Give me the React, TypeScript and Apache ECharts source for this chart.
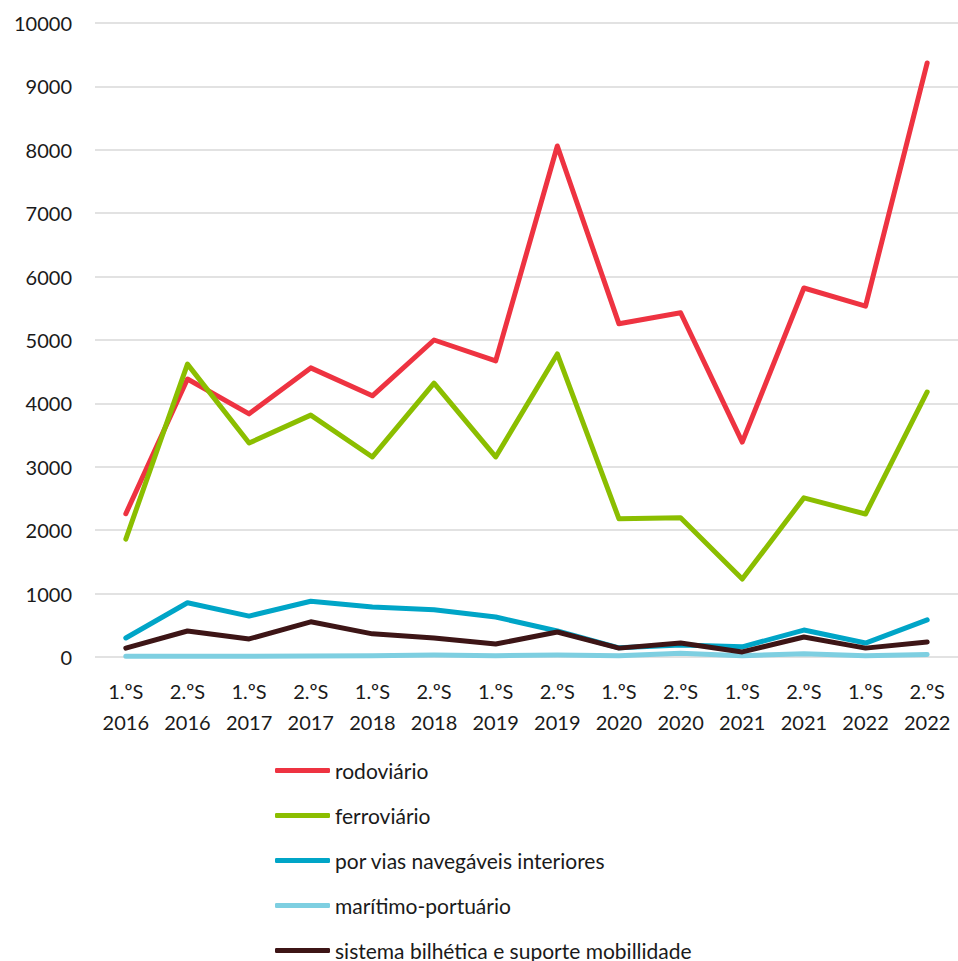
import React, { useEffect, useRef } from "react";
import * as echarts from "echarts";

const categories = [
  "1.ºS\n2016", "2.ºS\n2016", "1.ºS\n2017", "2.ºS\n2017", "1.ºS\n2018", "2.ºS\n2018", "1.ºS\n2019",
  "2.ºS\n2019", "1.ºS\n2020", "2.ºS\n2020", "1.ºS\n2021", "2.ºS\n2021", "1.ºS\n2022", "2.ºS\n2022",
];
const rodoviario = [2260, 4385, 3835, 4560, 4120, 5000, 4670, 8060, 5255, 5430, 3390, 5820, 5535, 9370];
const ferroviario = [1860, 4620, 3375, 3815, 3155, 4320, 3155, 4780, 2180, 2195, 1230, 2510, 2255, 4180];
const viasNavegaveis = [300, 855, 645, 880, 790, 745, 630, 410, 145, 190, 160, 425, 220, 585];
const maritimoPortuario = [10, 10, 10, 15, 20, 30, 20, 30, 20, 60, 20, 50, 20, 40];
const bilhetica = [140, 410, 285, 555, 365, 300, 205, 395, 140, 220, 80, 315, 140, 235];

const seriesDefs = [
  { name: "rodoviário", data: rodoviario, color: "#EE3341" },
  { name: "ferroviário", data: ferroviario, color: "#8BBE00" },
  { name: "por vias navegáveis interiores", data: viasNavegaveis, color: "#00A5C7" },
  { name: "marítimo-portuário", data: maritimoPortuario, color: "#7ECFE1" },
  { name: "sistema bilhética e suporte mobillidade", data: bilhetica, color: "#3D1516" },
];

const FONT = "Lato";

export default function App() {
  const ref = useRef<HTMLDivElement>(null);
  useEffect(() => {
    const chart = echarts.init(ref.current!, null, { renderer: "svg" });
    chart.setOption({
      animation: false,
      backgroundColor: "#ffffff",
      textStyle: { fontFamily: FONT },
      grid: { left: 95, right: 0, top: 23, bottom: 304, containLabel: false },
      xAxis: {
        type: "category",
        data: categories,
        boundaryGap: true,
        axisLine: { show: false },
        axisTick: { show: false },
        axisLabel: {
          color: "#1a1a1a",
          fontSize: 20,
          fontFamily: FONT,
          lineHeight: 31,
          margin: 18,
          interval: 0,
        },
      },
      yAxis: {
        type: "value",
        min: 0,
        max: 10000,
        interval: 1000,
        axisLine: { show: false },
        axisTick: { show: false },
        splitLine: { lineStyle: { color: "#D9D9D9", width: 1.5 } },
        axisLabel: {
          color: "#1a1a1a",
          fontSize: 20,
          fontFamily: FONT,
          margin: 23,
          formatter: (v: number) => String(v),
        },
      },
      legend: {
        orient: "vertical",
        left: 275,
        top: 760,
        height: 260,
        padding: 0,
        icon: "roundRect",
        itemWidth: 55,
        itemHeight: 5,
        itemGap: 24,
        textStyle: { color: "#1a1a1a", fontSize: 21, fontFamily: FONT, lineHeight: 20 },
        data: seriesDefs.map((s) => s.name),
      },
      series: seriesDefs.map((s) => ({
        name: s.name,
        type: "line",
        data: s.data,
        showSymbol: false,
        symbol: "none",
        color: s.color,
        lineStyle: { color: s.color, width: 5, cap: "round", join: "round" },
        itemStyle: { color: s.color },
        z: s.name === "marítimo-portuário" ? 1 : 2,
      })),
    });
    return () => chart.dispose();
  }, []);
  return <div ref={ref} style={{ width: 958, height: 961, position: "absolute", left: 0, top: 0 }} />;
}
